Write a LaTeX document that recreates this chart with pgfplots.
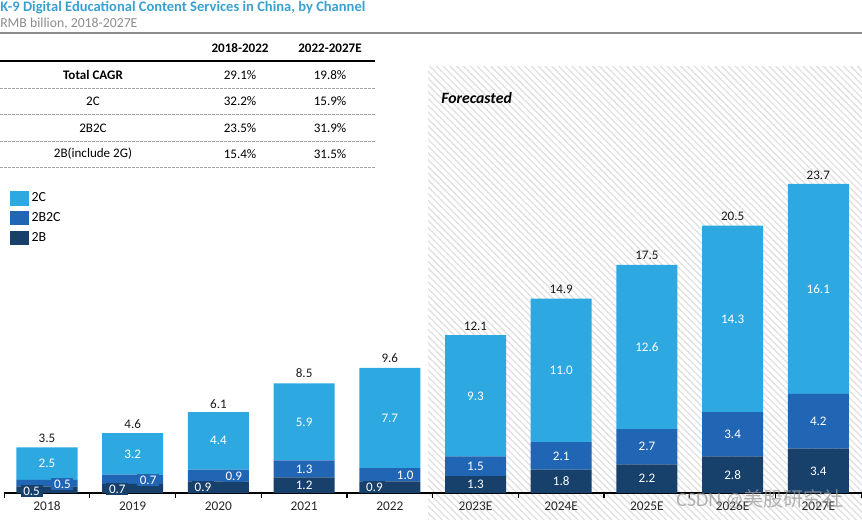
\documentclass[border=0pt]{standalone}
\usepackage{fontspec}
\setmainfont{Carlito}
\newfontfamily\cjk{Noto Sans CJK SC}
\usepackage{pgfplots}
\usepackage{pgfplotstable}
\pgfplotsset{compat=1.18}
\usetikzlibrary{patterns.meta}

\definecolor{cC}{HTML}{2EA8E0}
\definecolor{cBC}{HTML}{2166B4}
\definecolor{cB}{HTML}{17406B}
\definecolor{ttl}{HTML}{3AA0CF}

% segments 2B, 2B2C, 2C and the printed total
\pgfplotstableread{
idx b   bc  c    tot
0   0.5 0.5 2.5  3.5
1   0.7 0.7 3.2  4.6
2   0.9 0.9 4.4  6.1
3   1.2 1.3 5.9  8.5
4   0.9 1.0 7.7  9.6
5   1.3 1.5 9.3  12.1
6   1.8 2.1 11.0 14.9
7   2.2 2.7 12.6 17.5
8   2.8 3.4 14.3 20.5
9   3.4 4.2 16.1 23.7
}\chan

% thin segments: labels set beside the bar in boxes
\pgfplotstableread{
x     y    lab
-0.18 0.15 0.5
0.82  0.31 0.7
1.82  0.46 0.9
3.82  0.46 0.9
}\lowB
\pgfplotstableread{
x    y    lab
0.18 0.69 0.5
1.18 1.00 0.7
2.18 1.30 0.9
4.18 1.38 1.0
}\lowBC

\pgfplotsset{
  frame/.style={scale only axis, width=643.4pt, height=369.75pt,
    xmin=-0.5, xmax=9.51, ymin=0, ymax=37.8,
    at={(3.11pt,19.5pt)}, anchor=south west, clip=false},
  lbl/.style={only marks, mark=none, nodes near coords, point meta=explicit symbolic,
    every node near coord/.append style={anchor=center, text=white,
      font=\fontsize{9.8}{11}\selectfont}},
  mid/.style={x filter/.expression={(x==3||x>4.5) ? x : nan}},
}
\newcommand\rowfont{\fontsize{9.8}{11}\selectfont}

\begin{document}
\begin{tikzpicture}
\path[use as bounding box] (0,0) rectangle (646.5pt,389.25pt);
\begin{scope}[x=0.75pt,y=-0.75pt,yshift=389.25pt]
  \fill[pattern={Lines[angle=-45,distance=3.6pt,line width=1pt]},pattern color=black!12]
    (428,66) rectangle (862,519);
  \node[anchor=west,inner sep=0pt,text=ttl,font=\fontsize{10.9}{12}\selectfont\bfseries]
    at (0,8) {K-9 Digital Educational Content Services in China, by Channel};
  \node[anchor=west,inner sep=0pt,text=black!45,font=\fontsize{10.3}{11}\selectfont]
    at (0,24) {RMB billion, 2018-2027E};
  \draw[black!45,line width=1.3pt] (0,33) -- (862,33);
  % CAGR table
  \begin{scope}[font=\rowfont]
    \node[font=\rowfont\bfseries] at (240,48) {2018-2022};
    \node[font=\rowfont\bfseries] at (330,48) {2022-2027E};
    \draw[black,line width=1.2pt] (0,61) -- (375,61);
    \foreach \y/\a/\p/\q in {75/{\textbf{Total CAGR}}/29.1/19.8, 101.5/2C/32.2/15.9,
        128/2B2C/23.5/31.9, 154/2B(include 2G)/15.4/31.5} {
      \node at (93,\y) {\a};
      \node at (240,\y) {\p\%};
      \node at (330,\y) {\q\%};
      \draw[black!35,dash pattern=on 2pt off 1pt,line width=0.6pt] (0,\y+13) -- (375,\y+13);
    }
  \end{scope}
  \node[anchor=west,inner sep=0pt,font=\fontsize{11.8}{13}\selectfont\bfseries\itshape]
    at (441,98) {Forecasted};
\end{scope}

\begin{axis}[frame, ybar stacked, bar width=0.712,
  axis x line*=bottom, axis y line=none,
  x axis line style={black,line width=0.9pt},
  xtick={0,...,9},
  xticklabels={2018,2019,2020,2021,2022,2023E,2024E,2025E,2026E,2027E},
  major tick length=0pt,
  minor xtick={-0.5,0.5,...,9.5},
  minor tick length=4pt, tick align=outside,
  minor tick style={black,line width=0.9pt},
  xticklabel style={font=\fontsize{10}{11}\selectfont,text=black!85,yshift=-3pt},
  reverse legend,
  legend image code/.code={\fill[#1] (0pt,-5.3pt) rectangle (14pt,5.3pt);},
  legend style={at={(0.0068,0.6146)},anchor=north west,draw=none,fill=none,
    inner sep=0pt,font=\fontsize{10.4}{11}\selectfont,row sep=2.5pt},
  legend cell align=left,
]
\addplot[draw=none,fill=cB] table[x=idx,y=b] {\chan};
\addlegendentry{2B}
\addplot[draw=none,fill=cBC] table[x=idx,y=bc] {\chan};
\addlegendentry{2B2C}
\addplot[draw=none,fill=cC] table[x=idx,y=c] {\chan};
\addlegendentry{2C}
\end{axis}

\begin{axis}[frame, hide axis]
\addplot[lbl] table[x=idx,y expr=\thisrow{b}+\thisrow{bc}+\thisrow{c}/2,meta=c] {\chan};
\addplot[lbl,mid] table[x=idx,y expr=\thisrow{b}+\thisrow{bc}/2,meta=bc] {\chan};
\addplot[lbl,mid] table[x=idx,y expr=\thisrow{b}/2,meta=b] {\chan};
\addplot[lbl,every node near coord/.append style={fill=cB,inner xsep=2pt,inner ysep=1pt}]
  table[x=x,y=y,meta=lab] {\lowB};
\addplot[lbl,every node near coord/.append style={fill=cBC,inner xsep=2pt,inner ysep=1pt}]
  table[x=x,y=y,meta=lab] {\lowBC};
\addplot[only marks,mark=none,nodes near coords,point meta=explicit symbolic,
  every node near coord/.append style={text=black!90,font=\fontsize{9.8}{11}\selectfont}]
  table[x=idx,y=tot,meta=tot] {\chan};
\end{axis}

\node[anchor=west,inner sep=0pt,text=black!40,opacity=0.75,font=\fontsize{15}{16}\selectfont]
  at (507pt,15pt) {CSDN @{\cjk 美股研究社}};
\end{tikzpicture}
\end{document}
